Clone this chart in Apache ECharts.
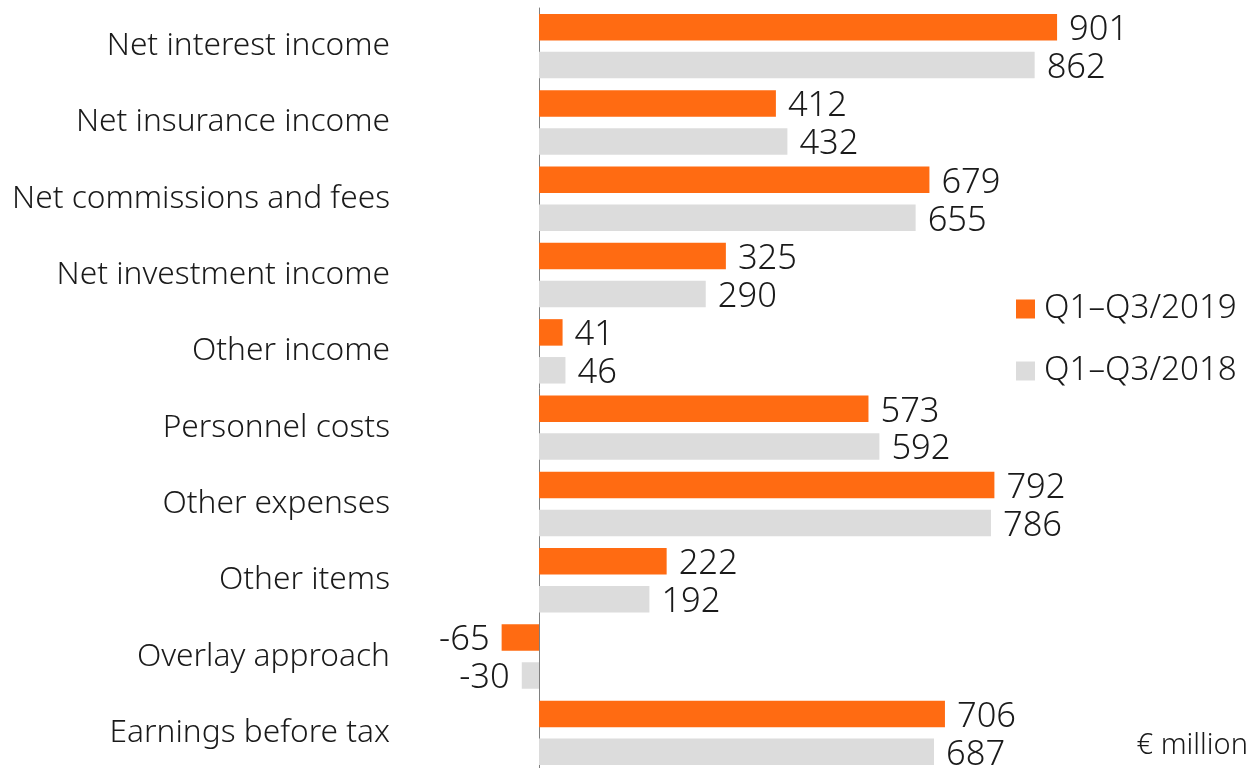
<!DOCTYPE html>
<html>
<head>
<meta charset="utf-8">
<script src="https://cdn.jsdelivr.net/npm/echarts@6/dist/echarts.min.js"></script>
<style>
html,body{margin:0;padding:0;background:#fff;}
#chart{width:1252px;height:768px;}
</style>
</head>
<body>
<div id="chart"></div>
<script>
const categories = [
  "Net interest income",
  "Net insurance income",
  "Net commissions and fees",
  "Net investment income",
  "Other income",
  "Personnel costs",
  "Other expenses",
  "Other items",
  "Overlay approach",
  "Earnings before tax"
];
const values2019 = [901, 412, 679, 325, 41, 573, 792, 222, -65, 706];
const values2018 = [862, 432, 655, 290, 46, 592, 786, 192, -30, 687];
const seriesNames = ["Q1–Q3/2019", "Q1–Q3/2018"];
const unitLabel = "€ million";

const FONT = "Noto Sans";
const TXT = "#1a1a1a";
const FW = 300;

function toData(arr) {
  return arr.map(v => v < 0 ? { value: v, label: { position: 'left' } } : v);
}

const chart = echarts.init(document.getElementById('chart'));
chart.setOption({
  animation: false,
  textStyle: { fontFamily: FONT },
  grid: { left: 481.5, width: 747.5, top: 8, height: 763, containLabel: false, outerBoundsMode: 'none' },
  xAxis: {
    type: 'value', min: -100, max: 1200,
    show: false
  },
  yAxis: {
    type: 'category', data: categories, inverse: true,
    axisLine: { show: true, onZero: true, lineStyle: { color: '#808080', width: 1 } },
    axisTick: { show: false },
    splitLine: { show: false },
    axisLabel: { margin: 91.5, fontSize: 31.7, color: TXT, fontFamily: FONT, fontWeight: FW, padding: [4, 0, 0, 0] }
  },
  legend: {
    orient: 'vertical', left: 1011, top: 287,
    itemWidth: 19, itemHeight: 19, itemGap: 28,
    icon: 'rect',
    textStyle: { fontSize: 33.2, color: TXT, fontFamily: FONT, fontWeight: FW, padding: [0, 0, 0, 4], lineHeight: 34 },
    data: seriesNames
  },
  graphic: [{
    type: 'text', right: 4, top: 731,
    style: { text: unitLabel, fontSize: 29, fill: TXT, fontFamily: FONT, fontWeight: FW }
  }],
  series: [
    {
      name: seriesNames[0], type: 'bar', data: toData(values2019),
      barWidth: 26.5, barGap: '43%',
      itemStyle: { color: '#FF6B12' },
      label: { show: true, position: 'right', distance: 12, offset: [0, 3], fontSize: 34.5, color: TXT, fontFamily: FONT, fontWeight: FW }
    },
    {
      name: seriesNames[1], type: 'bar', data: toData(values2018),
      barWidth: 26.5, barGap: '43%',
      itemStyle: { color: '#DCDCDC' },
      label: { show: true, position: 'right', distance: 12, offset: [0, 3], fontSize: 34.5, color: TXT, fontFamily: FONT, fontWeight: FW }
    }
  ]
});
</script>
</body>
</html>
